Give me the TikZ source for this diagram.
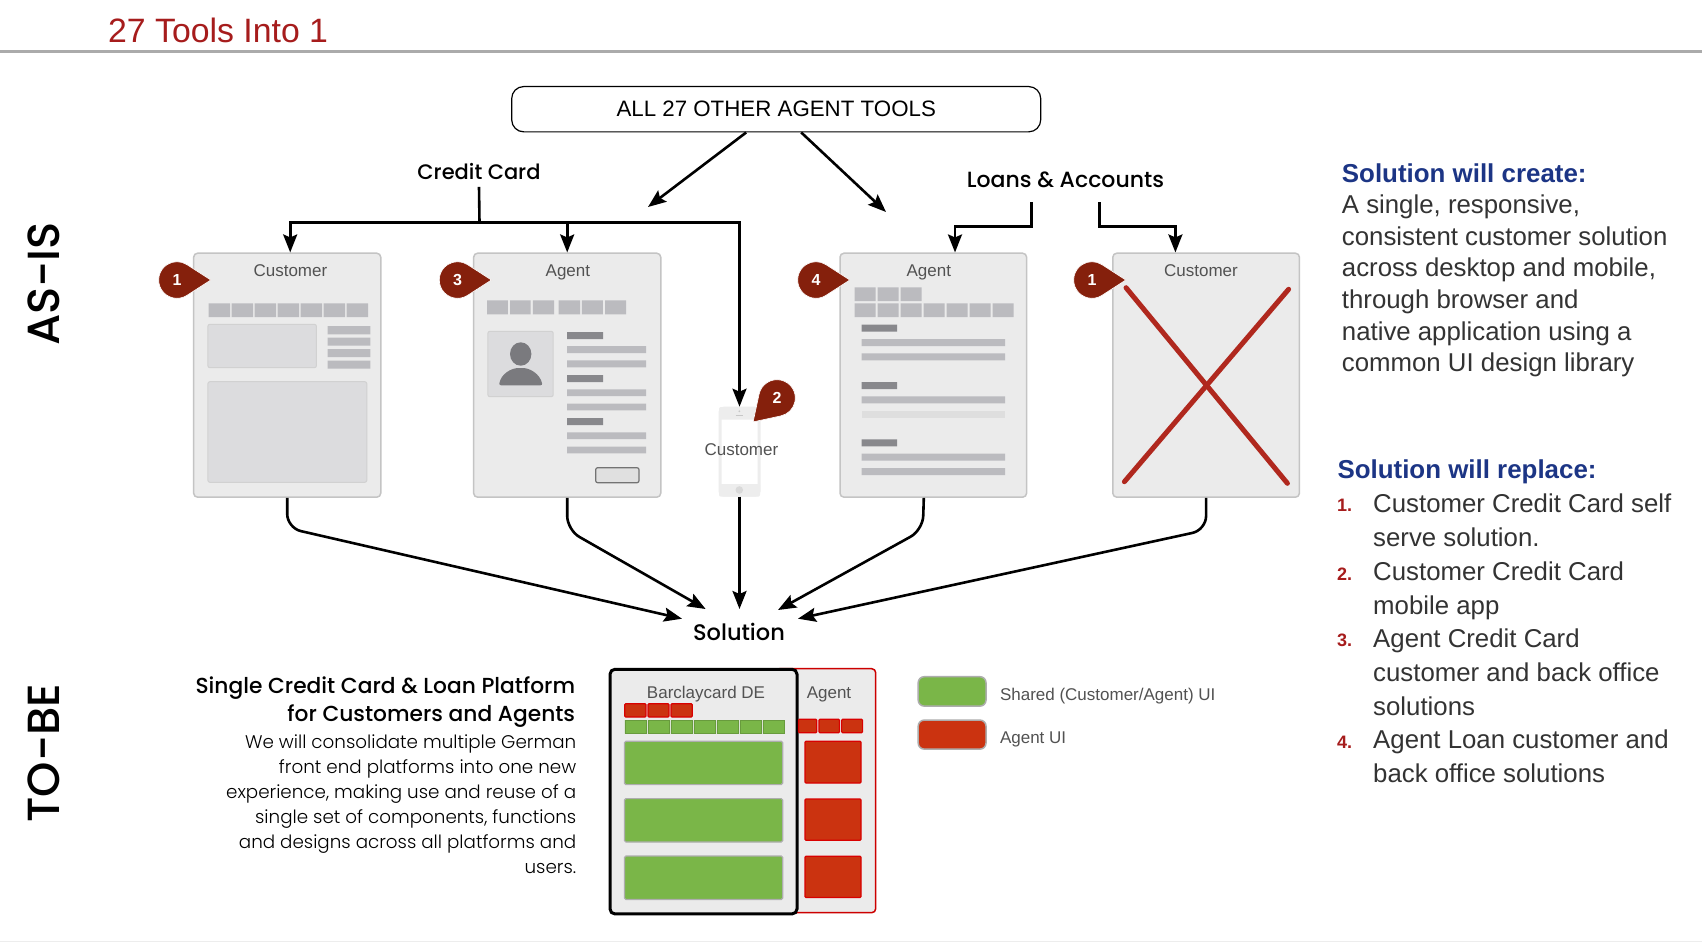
\documentclass[tikz,border=0pt]{standalone}
\usepackage{fontspec}
\setmainfont{Liberation Sans}
\newfontfamily\gothic{Poppins Medium}
\newfontfamily\gothiclight{Poppins Light}
\usetikzlibrary{arrows.meta}
\usetikzlibrary{calc}
\definecolor{titlered}{HTML}{A61C1C}
\definecolor{pinred}{HTML}{85200C}
\definecolor{navcol}{HTML}{BBBBBF}
\definecolor{darkbar}{HTML}{88888C}
\definecolor{cardfill}{HTML}{EBEBEB}
\definecolor{cardline}{HTML}{C4C4C4}
\definecolor{panelfill}{HTML}{DCDCDE}
\definecolor{peoplecol}{HTML}{7A7A7E}
\definecolor{uigreen}{HTML}{7AB648}
\definecolor{uired}{HTML}{CB3310}
\definecolor{headblue}{HTML}{1C3585}
\definecolor{crosscol}{HTML}{B0281E}
\definecolor{rulecol}{HTML}{ABABAB}
\tikzset{
  flow/.style={line width=2.6pt,black,-{Stealth[length=18pt,width=14pt,inset=3pt]}},
  stem/.style={line width=2.6pt,black},
  cardbox/.style={draw=cardline,fill=cardfill,line width=1.5pt,rounded corners=4pt,inner sep=0pt},
  cardtitle/.style={inner sep=0pt,anchor=base,text=black!68,font=\fontsize{17}{20}\selectfont},
  bigword/.style={inner sep=0pt,rotate=90,font=\gothic\fontsize{45}{50}\selectfont},
  streamword/.style={inner sep=0pt,font=\gothic\fontsize{21}{25}\selectfont},
  pinnum/.style={inner sep=0pt,text=white,font=\bfseries\fontsize{16}{18}\selectfont},
  panel/.style={fill=panelfill,draw=black!18,line width=1pt,rounded corners=2pt},
  greenui/.style={fill=uigreen,draw=black!32,line width=1.2pt,rounded corners=1.5pt},
  redui/.style={fill=uired,draw=red!85!black,line width=1.2pt,rounded corners=1pt},
  sidehead/.style={inner sep=0pt,anchor=west,text=headblue,font=\bfseries\fontsize{25.9}{31}\selectfont},
  sidetext/.style={inner sep=0pt,anchor=west,align=left,text=black!80,font=\fontsize{25.8}{31.7}\selectfont},
  listtext/.style={inner sep=0pt,anchor=west,align=left,text=black!80,font=\fontsize{25.8}{33.9}\selectfont},
  listnum/.style={inner sep=0pt,anchor=west,text=titlered,font=\bfseries\fontsize{18}{20}\selectfont},
  keytext/.style={inner sep=0pt,anchor=base west,text=black!68,font=\fontsize{17}{20}\selectfont}
}
\newcommand{\pinmark}[4]{%
  \fill[pinred,draw=white,line width=0.6pt] ($(#2)+(#3:33.8)$) -- ($(#2)+(#3+57:18.3)$)
    arc[start angle=#3+57,end angle=#3+303,radius=18.3] -- cycle;
  \node[pinnum] (#1) at (#2) {#4};
}
\begin{document}
\begin{tikzpicture}[x=1pt,y=-1pt]
\useasboundingbox[fill=white] (0,0) rectangle (1702,942);
% header
\draw[line width=3pt,rulecol] (0,52) -- (1702,52);
\draw[line width=1pt,black!7] (0,941.5) -- (1702,941.5);
\node[inner sep=0pt,anchor=west,text=titlered,font=\fontsize{33.8}{38}\selectfont] (pagetitle) at (108,30) {27 Tools Into 1};
\node[bigword] (asis) at (44,284) {AS-IS};
\node[bigword] (tobe) at (44,753) {TO-BE};
% top of the tree
\node[draw=black,line width=1.2pt,rounded corners=12pt,minimum width=529pt,minimum height=45.3pt,inner sep=0pt,font=\fontsize{22.3}{26}\selectfont] (tools) at (776.2,109.2) {ALL 27 OTHER AGENT TOOLS};
\node[streamword] (credit) at (479,171.5) {Credit Card};
\node[streamword,font=\gothic\fontsize{22}{25}\selectfont] (loans) at (1065.4,180) {Loans \& Accounts};
\coordinate (creditdrop) at (648,207);
\coordinate (loansdrop) at (886,212);
\coordinate (creditjoin) at (479.5,222.7);
\coordinate (loansleft) at (1031.6,202);
\coordinate (loansright) at (1099.6,202);
\draw[flow] ([xshift=-30pt]tools.south) -- (creditdrop);
\draw[flow] ([xshift=25pt]tools.south) -- (loansdrop);
% the five screens
\node[cardbox,minimum width=187.1pt,minimum height=244pt] (custcard) at (287.2,375.2) {};
\node[cardbox,minimum width=187.1pt,minimum height=244pt] (agentcard) at (567.2,375.2) {};
\node[cardbox,minimum width=186.6pt,minimum height=244pt] (loancard) at (933.3,375.2) {};
\node[cardbox,minimum width=186.6pt,minimum height=244pt] (deadcard) at (1206.1,375.2) {};
\node[draw=black!7,fill=white,line width=3pt,rounded corners=4pt,minimum width=39pt,minimum height=87pt,inner sep=0pt] (phone) at (739.5,451.7) {};
\fill[black!7,rounded corners=2pt] (719,407) rectangle (760,419.5);
\fill[black!7,rounded corners=2pt] (719,484) rectangle (760,496.7);
\fill[black!22] (739.3,411.3) circle (1);
\draw[black!22,line width=0.8pt] (735.6,415) -- (743.4,415);
\fill[black!15] (739.3,490) circle (3.8);
\draw[stem] ([yshift=-7pt]credit.south) -- (creditjoin);
\draw[flow] (creditjoin) -| ([xshift=3pt]custcard.north);
\draw[flow] (creditjoin) -| (agentcard.north);
\draw[flow] (creditjoin) -| (phone.north);
\draw[flow] (loansleft) |- (955,226.7) -- (loancard.north -| 955,226.7);
\draw[flow] (loansright) |- (1175.4,226.7) -- (deadcard.north -| 1175.4,226.7);
\node[cardtitle] (custname) at (290.4,276.5) {Customer};
\node[cardtitle] (agentname) at (567.9,276.5) {Agent};
\node[cardtitle] (loanname) at (928.8,276.5) {Agent};
\node[cardtitle] (deadname) at (1201,276.5) {Customer};
\node[cardtitle] (phonename) at (741.4,455.5) {Customer};
% customer screen
\fill[navcol] (208.6,303.3) rectangle +(21.4,13.7) (231.6,303.3) rectangle +(21.4,13.7) (254.6,303.3) rectangle +(21.4,13.7) (277.6,303.3) rectangle +(21.4,13.7) (300.6,303.3) rectangle +(21.4,13.7) (323.6,303.3) rectangle +(21.4,13.7) (346.6,303.3) rectangle +(21.4,13.7);
\draw[panel] (207.9,324.3) rectangle (316.4,367.7);
\draw[panel] (207.9,381.7) rectangle (366.8,482.3);
\fill[navcol] (327.5,326) rectangle (370.4,334.3) (327.5,337.7) rectangle (370.4,345.7) (327.5,349) rectangle (370.4,357) (327.5,360.7) rectangle (370.4,368.7);
% agent screen
\fill[navcol] (487.1,300.3) rectangle (507.9,314.3) (510,300.3) rectangle (530.7,314.3) (532.9,300.3) rectangle (554,314.3) (558.6,300.3) rectangle (580,314.3) (581.8,300.3) rectangle (602.9,314.3) (605,300.3) rectangle (626,314.3);
\draw[panel] (487.9,331.3) rectangle (553.2,396.7);
\fill[peoplecol] (520.7,354) ellipse [x radius=10.7,y radius=11.7];
\fill[peoplecol,rounded corners=2pt] (499,385.3) .. controls (501,374) and (511,368) .. (520.7,368) .. controls (530,368) and (540,374) .. (542.5,385.3) -- cycle;
\fill[darkbar] (567,332) rectangle (603,339) (567,375) rectangle (603,382) (567,418) rectangle (603,425);
\fill[navcol] (567,346) rectangle (646,353) (567,360.3) rectangle (646,367.3) (567,389.3) rectangle (646,396) (567,403.7) rectangle (646,410.3) (567,432.3) rectangle (646,439) (567,446.7) rectangle (646,453.3);
\draw[fill=black!12,draw=black!55,line width=1.2pt,rounded corners=2pt] (595.7,467.7) rectangle (639,482.7);
% loan screen
\fill[navcol] (854.5,287.3) rectangle +(21.2,13.7) (877.5,287.3) rectangle +(21.2,13.7) (900.5,287.3) rectangle +(21.2,13.7);
\fill[navcol] (854.5,303.3) rectangle +(21.2,13.7) (877.5,303.3) rectangle +(21.2,13.7) (900.5,303.3) rectangle +(21.2,13.7) (923.5,303.3) rectangle +(21.2,13.7) (946.5,303.3) rectangle +(21.2,13.7) (969.5,303.3) rectangle +(21.2,13.7) (992.5,303.3) rectangle +(21.2,13.7);
\fill[darkbar] (861.6,324.7) rectangle (897.2,331.7) (861.6,382) rectangle (897.2,389) (861.6,439.3) rectangle (897.2,446.3);
\fill[navcol] (861.6,339) rectangle (1005,346) (861.6,353.3) rectangle (1005,360.3) (861.6,396.3) rectangle (1005,403.3) (861.6,453.7) rectangle (1005,460.7) (861.6,468) rectangle (1005,475);
\fill[black!13] (861.6,410.7) rectangle (1005,417.7);
% crossed out screen
\draw[line width=5pt,line cap=round,crosscol] (1126,287.7) -- (1287.4,483.3);
\draw[line width=5pt,line cap=round,crosscol] (1288.6,289.3) -- (1124.4,481.7);
\pinmark{pinone}{177,280}{0}{1}
\pinmark{pinthree}{457.6,280}{0}{3}
\pinmark{pinfour}{816,280}{0}{4}
\pinmark{pinlast}{1092,280}{0}{1}
\pinmark{pintwo}{777,398}{135}{2}
% into the solution
\node[streamword,font=\gothic\fontsize{22.5}{26}\selectfont] (solution) at (739,632) {Solution};
\coordinate (solfarleft) at (682,618.7);
\coordinate (solleft) at (705.6,609);
\coordinate (solmid) at (739.5,609);
\coordinate (solright) at (778,610);
\coordinate (solfarright) at (798,618.7);
\draw[flow,rounded corners=14pt] (custcard.south) -- ++(0,30) -- (solfarleft);
\draw[flow,rounded corners=14pt] (agentcard.south) -- ++(0,32) -- (solleft);
\draw[flow] (phone.south) -- (solmid);
\draw[flow,rounded corners=14pt] ([xshift=-9.5pt]loancard.south) -- ++(-1,32) -- (solright);
\draw[flow,rounded corners=14pt] (deadcard.south) -- ++(0,32) -- (solfarright);
% to-be mock up
\node[inner sep=0pt,anchor=east,align=right,font=\gothic\fontsize{21.75}{28.2}\selectfont] (consolhead) at (575.3,702) {Single Credit Card \& Loan Platform\\for Customers and Agents};
\node[inner sep=0pt,anchor=east,align=right,font=\gothiclight\fontsize{18.3}{25}\selectfont] (consolbody) at (576.4,803.8) {We will consolidate multiple German\\front end platforms into one new\\experience, making use and reuse of a\\single set of components, functions\\and designs across all platforms and\\users.};
\node[draw=red!80!black,fill=cardfill,line width=1.5pt,rounded corners=4pt,minimum width=100pt,minimum height=244pt,inner sep=0pt] (agentside) at (825.7,790.7) {};
\node[draw=black,fill=cardfill,line width=3pt,rounded corners=5pt,minimum width=187pt,minimum height=244.7pt,inner sep=0pt] (barclay) at (703.5,791.6) {};
\node[cardtitle] (barclayname) at (706,698) {Barclaycard DE};
\node[cardtitle] (sidename) at (829,698) {Agent};
\path[redui] (624.8,703.7) rectangle (645.9,717) (648,703.7) rectangle (669,717) (671,703.7) rectangle (692.2,717);
\path[redui] (798.5,719.3) rectangle (816.8,732.7) (818.9,719.3) rectangle (839.5,732.7) (841.6,719.3) rectangle (862.6,732.7);
\path[fill=uigreen,draw=uigreen!85!black,line width=0.5pt] (624.8,720) rectangle +(21,13.7) (647.8,720) rectangle +(21,13.7) (670.8,720) rectangle +(21,13.7) (693.8,720) rectangle +(21,13.7) (716.8,720) rectangle +(21,13.7) (739.8,720) rectangle +(21,13.7) (762.8,720) rectangle +(21,13.7);
\path[greenui] (624.4,741.2) rectangle (782.7,784.6);
\path[greenui] (624.4,798.6) rectangle (782.7,842);
\path[greenui] (624.4,856) rectangle (782.7,899.5);
\path[redui] (805,741.3) rectangle (861,783);
\path[redui] (805,799) rectangle (861,840.3);
\path[redui] (805,856.3) rectangle (861,897.5);
% key
\node[fill=uigreen,draw=black!32,line width=1.5pt,rounded corners=6pt,minimum width=67.8pt,minimum height=29.4pt,inner sep=0pt] (keygreen) at (952.1,691.4) {};
\node[fill=uired,draw=black!32,line width=1.5pt,rounded corners=6pt,minimum width=67.8pt,minimum height=29pt,inner sep=0pt] (keyred) at (952.1,734.6) {};
\node[keytext] (keygreentext) at (999.8,700) {Shared (Customer/Agent) UI};
\node[keytext] (keyredtext) at (999.8,743) {Agent UI};
% right column
\node[sidehead] (createhead) at (1341.7,173.6) {Solution will create:};
\node[sidetext] (createbody) at (1341.7,286) {A single, responsive,\\consistent customer solution\\across desktop and mobile,\\through browser and\\native application using a\\common UI design library};
\node[sidehead] (replacehead) at (1337.3,472) {Solution will replace:};
\node[listnum] (numone) at (1337,505) {1.};
\node[listnum] (numtwo) at (1337,574) {2.};
\node[listnum] (numthree) at (1337,640) {3.};
\node[listnum] (numfour) at (1337,742) {4.};
\node[listtext] (itemone) at (1373,520.5) {Customer Credit Card self\\serve solution.};
\node[listtext] (itemtwo) at (1373,591) {Customer Credit Card\\mobile app};
\node[listtext] (itemthree) at (1373,672) {Agent Credit Card\\customer and back office\\solutions};
\node[listtext] (itemfour) at (1373,756.7) {Agent Loan customer and\\back office solutions};
\end{tikzpicture}
\end{document}
